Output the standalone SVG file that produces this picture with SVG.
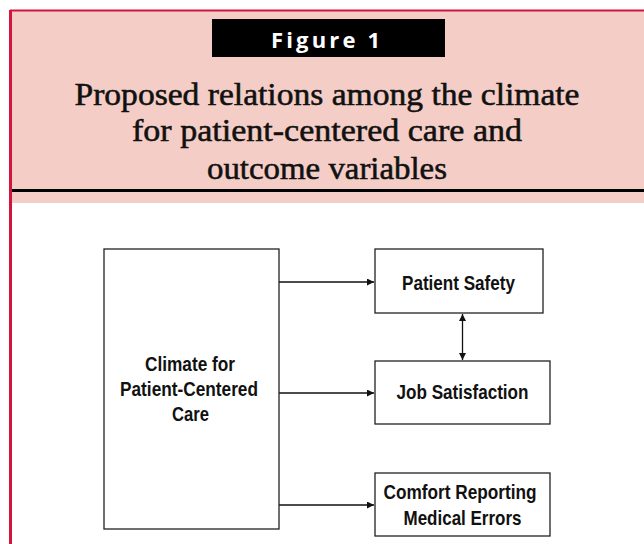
<svg xmlns="http://www.w3.org/2000/svg" width="644" height="544" viewBox="0 0 644 544">
  <style>
    .node { fill: #ffffff; stroke: #222222; stroke-width: 1.3; }
    .lbl { font-family: "Liberation Sans", Arial, sans-serif; font-weight: bold; font-size: 20.5px; fill: #111111; text-anchor: middle; }
    .title { font-family: "Liberation Serif", "Times New Roman", serif; font-size: 32px; fill: #111111; stroke: #111111; stroke-width: 0.55; text-anchor: middle; }
    .conn { stroke: #111111; stroke-width: 1.3; fill: none; }
  </style>
  <defs>
    <marker id="arrow" viewBox="0 0 10 10" refX="10" refY="5" markerWidth="8" markerHeight="7" markerUnits="userSpaceOnUse" orient="auto-start-reverse">
      <path d="M0,0 L10,5 L0,10 z" fill="#111111"/>
    </marker>
  </defs>

  <rect x="0" y="0" width="644" height="544" fill="#ffffff"/>

  <!-- header band -->
  <rect x="10" y="10" width="640" height="193" fill="#f4cdc6"/>
  <line x1="10" y1="10.5" x2="644" y2="10.5" stroke="#d2143f" stroke-width="2"/>
  <line x1="10.5" y1="10" x2="10.5" y2="544" stroke="#d2143f" stroke-width="3"/>
  <line x1="12" y1="190.5" x2="644" y2="190.5" stroke="#000000" stroke-width="3"/>

  <rect x="212" y="19" width="233" height="38" fill="#000000"/>
  <text x="327" y="48" font-family="'Open Sans', 'DejaVu Sans', sans-serif" font-weight="bold" font-size="22" letter-spacing="3" textLength="112" fill="#ffffff" text-anchor="middle">Figure 1</text>

  <text class="title" x="327" y="105" textLength="505" lengthAdjust="spacingAndGlyphs">Proposed relations among the climate</text>
  <text class="title" x="327" y="141" textLength="390" lengthAdjust="spacingAndGlyphs">for patient-centered care and</text>
  <text class="title" x="327" y="179" textLength="240" lengthAdjust="spacingAndGlyphs">outcome variables</text>

  <!-- connectors -->
  <g id="connectors">
    <line class="conn" x1="279" y1="282" x2="374" y2="282" marker-end="url(#arrow)"/>
    <line class="conn" x1="279" y1="393" x2="374" y2="393" marker-end="url(#arrow)"/>
    <line class="conn" x1="279" y1="505" x2="374" y2="505" marker-end="url(#arrow)"/>
    <line class="conn" x1="462.5" y1="314" x2="462.5" y2="360" marker-start="url(#arrow)" marker-end="url(#arrow)"/>
  </g>

  <g id="climate">
    <rect class="node" x="104" y="249" width="175" height="280"/>
    <text class="lbl" x="190" y="371" textLength="90" lengthAdjust="spacingAndGlyphs">Climate for</text>
    <text class="lbl" x="189" y="396" textLength="138" lengthAdjust="spacingAndGlyphs">Patient-Centered</text>
    <text class="lbl" x="190.5" y="421" textLength="37" lengthAdjust="spacingAndGlyphs">Care</text>
  </g>

  <g id="patient-safety">
    <rect class="node" x="375" y="249" width="168" height="64"/>
    <text class="lbl" x="458.5" y="290" textLength="113" lengthAdjust="spacingAndGlyphs">Patient Safety</text>
  </g>

  <g id="job-satisfaction">
    <rect class="node" x="375" y="361" width="175" height="63"/>
    <text class="lbl" x="462.5" y="399" textLength="132" lengthAdjust="spacingAndGlyphs">Job Satisfaction</text>
  </g>

  <g id="comfort-reporting">
    <rect class="node" x="375" y="473" width="175" height="63"/>
    <text class="lbl" x="460" y="499" textLength="153" lengthAdjust="spacingAndGlyphs">Comfort Reporting</text>
    <text class="lbl" x="462.5" y="525" textLength="118" lengthAdjust="spacingAndGlyphs">Medical Errors</text>
  </g>
</svg>
